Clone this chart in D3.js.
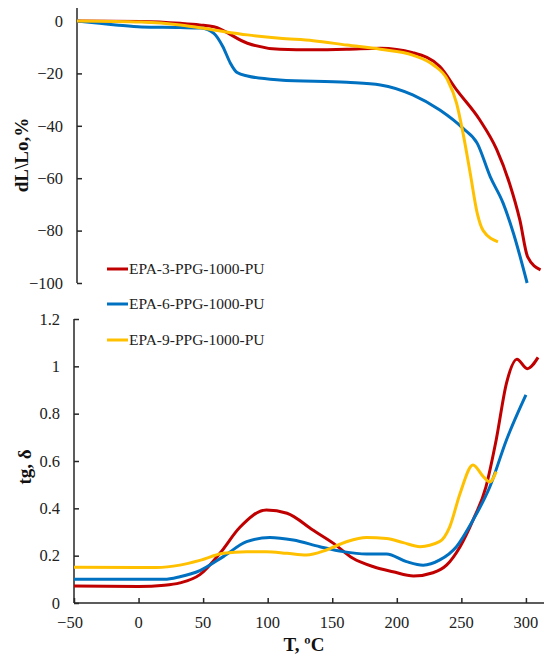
<!DOCTYPE html>
<html><head><meta charset="utf-8">
<script src="https://cdn.jsdelivr.net/npm/d3@7"></script>
<style>body{margin:0;background:#fff;} svg{display:block;} svg text{font-family:"Liberation Serif","Times New Roman","DejaVu Serif",serif;}</style>
</head><body>
<svg id="chart" width="544" height="658"></svg>
<script>
const seriesNames = ["EPA-3-PPG-1000-PU", "EPA-6-PPG-1000-PU", "EPA-9-PPG-1000-PU"];
const seriesColors = ["#C00000", "#0070C0", "#FFC000"];

// Top panel: dL/Lo, % vs T
const topRed = [[-50,0],[0,-0.2],[30,-0.9],[45,-1.5],[56,-2.2],[82,-8.5],[107,-10.8],[133,-11],[159,-10.8],[185,-10.4],[210,-12.1],[231,-17.4],[244,-26.3],[262,-37.8],[275,-49],[285,-62],[293,-76],[299,-90],[309,-95]];
const topBlue = [[-50,0],[-20,-1.5],[0,-2.3],[30,-2.5],[46,-2.7],[56,-4.7],[63,-9.8],[68.7,-16],[74,-19.7],[82,-21],[107,-22.5],[159,-23.4],[185,-24.4],[210,-28.2],[231,-34],[249,-41],[260,-46.7],[270,-59.4],[280,-69.5],[288,-81],[298.6,-100]];
const topYellow = [[-50,0],[0,-0.4],[30,-1.5],[55.6,-3.4],[82,-5.3],[107,-6.6],[133,-7.5],[159,-9.2],[185,-10.8],[210,-13],[226,-16.8],[237,-22.5],[244,-31.4],[249,-42.9],[254.5,-58],[260,-73.4],[264.6,-80],[276,-84.3]];

// Bottom panel: tg δ vs T
const botRed = [[-50,0.072],[0,0.07],[20,0.075],[32,0.085],[47.5,0.12],[63,0.21],[78.5,0.32],[99,0.393],[115,0.379],[135,0.308],[151,0.252],[166,0.189],[182,0.153],[197,0.132],[213,0.114],[228,0.128],[238.5,0.16],[249,0.238],[259,0.35],[269,0.49],[277,0.69],[285,0.93],[293,1.03],[301,0.99],[309.4,1.038]];
const botBlue = [[-50,0.10],[0,0.10],[20,0.10],[32,0.111],[47.5,0.137],[65.6,0.196],[83.7,0.259],[101.7,0.277],[119.8,0.266],[140.4,0.238],[158.4,0.217],[176.5,0.207],[192,0.207],[207.5,0.175],[220.4,0.16],[233.3,0.182],[246.2,0.238],[259,0.35],[272,0.49],[285,0.69],[300,0.879]];
const botYellow = [[-50,0.151],[0,0.15],[14,0.15],[32,0.16],[47.5,0.18],[65.6,0.21],[83.7,0.217],[99,0.217],[115,0.21],[130,0.203],[145.5,0.224],[161,0.259],[176.5,0.277],[192,0.273],[205,0.255],[218,0.238],[233,0.259],[241,0.322],[249,0.463],[259,0.583],[267,0.534],[272,0.512],[277,0.555]];

const xTicks = [-50, 0, 50, 100, 150, 200, 250, 300];
const topYTicks = [0, -20, -40, -60, -80, -100];
const botYTicks = [0, 0.2, 0.4, 0.6, 0.8, 1, 1.2];

const svg = d3.select("#chart");
const axisColor = "#262626";

const xTop = d3.scaleLinear().domain([-50, 314]).range([77, 547]);
const yTop = d3.scaleLinear().domain([-100, 5]).range([283, 7.9]);
const xBot = d3.scaleLinear().domain([-50, 314]).range([74, 544]);
const yBot = d3.scaleLinear().domain([0, 1.2]).range([603, 319]);

const fmt = v => (v < 0 ? "\u2212" + Math.abs(v) : String(v));

// Top y axis
const gTopY = svg.append("g").attr("transform", `translate(${xTop.range()[0]},0)`)
  .call(d3.axisRight(yTop).tickValues(topYTicks).tickSize(5).tickFormat(""));
gTopY.select(".domain").attr("stroke", axisColor).attr("stroke-width", 1.5).attr("d", `M0,${yTop(5)}V${yTop(-100)}`);
gTopY.selectAll(".tick line").attr("stroke", axisColor).attr("stroke-width", 1.5);
svg.append("g").selectAll("text").data(topYTicks).join("text")
  .attr("x", 63).attr("y", d => yTop(d)).attr("dy", "0.35em")
  .attr("text-anchor", "end").attr("font-size", 16.5).attr("fill", "#222")
  .text(fmt);

// Bottom y axis
const gBotY = svg.append("g").attr("transform", `translate(${xBot.range()[0]},0)`)
  .call(d3.axisRight(yBot).tickValues(botYTicks).tickSize(5).tickFormat(""));
gBotY.select(".domain").attr("stroke", axisColor).attr("stroke-width", 1.5).attr("d", `M0,${yBot(1.2)}V${yBot(0)}`);
gBotY.selectAll(".tick line").attr("stroke", axisColor).attr("stroke-width", 1.5);
svg.append("g").selectAll("text").data(botYTicks).join("text")
  .attr("x", 60).attr("y", d => yBot(d)).attr("dy", "0.35em")
  .attr("text-anchor", "end").attr("font-size", 16.5).attr("fill", "#222")
  .text(d => String(d));

// Bottom x axis
const gX = svg.append("g").attr("transform", `translate(0,${yBot(0)})`)
  .call(d3.axisTop(xBot).tickValues(xTicks).tickSize(5).tickFormat(""));
gX.select(".domain").attr("stroke", axisColor).attr("stroke-width", 1.5).attr("d", `M${xBot.range()[0]},0H544`);
gX.selectAll(".tick line").attr("stroke", axisColor).attr("stroke-width", 1.5);
svg.append("g").selectAll("text").data(xTicks).join("text")
  .attr("x", d => xBot(d) - (d < 0 ? 4 : 0)).attr("y", 628)
  .attr("text-anchor", "middle").attr("font-size", 16.5).attr("fill", "#222")
  .text(fmt);

// Lines
const lineTop = d3.line().x(d => xTop(d[0])).y(d => yTop(d[1])).curve(d3.curveMonotoneX);
const lineBot = d3.line().x(d => xBot(d[0])).y(d => yBot(d[1])).curve(d3.curveMonotoneX);
[topRed, topBlue, topYellow].forEach((s, i) => {
  svg.append("path").datum(s).attr("d", lineTop).attr("fill", "none")
    .attr("stroke", seriesColors[i]).attr("stroke-width", 3).attr("stroke-linejoin", "round");
});
[botRed, botBlue, botYellow].forEach((s, i) => {
  svg.append("path").datum(s).attr("d", lineBot).attr("fill", "none")
    .attr("stroke", seriesColors[i]).attr("stroke-width", 3).attr("stroke-linejoin", "round");
});

// Axis titles
svg.append("text").attr("transform", "translate(28,155) rotate(-90)")
  .attr("text-anchor", "middle").attr("font-weight", "bold")
  .attr("font-size", 19).attr("fill", "#111").text("dL\\Lo,%");
svg.append("text").attr("transform", "translate(31,467) rotate(-90)")
  .attr("text-anchor", "middle").attr("font-weight", "bold")
  .attr("font-size", 19).attr("fill", "#111").text("tg, δ");
svg.append("text").attr("x", 304).attr("y", 651)
  .attr("text-anchor", "middle").attr("font-weight", "bold")
  .attr("font-size", 19).attr("fill", "#111").text("T, ºC");

// Legend
const legY = [269, 304, 340];
const leg = svg.append("g").selectAll("g").data(seriesNames).join("g")
  .attr("transform", (d, i) => `translate(0,${legY[i]})`);
leg.append("line").attr("x1", 107).attr("x2", 128).attr("y1", 0).attr("y2", 0)
  .attr("stroke", (d, i) => seriesColors[i]).attr("stroke-width", 3);
leg.append("text").attr("x", 129).attr("y", 0).attr("dy", "0.35em")
  .attr("font-size", 15.5).attr("fill", "#222").text(d => d);
</script>
</body></html>
